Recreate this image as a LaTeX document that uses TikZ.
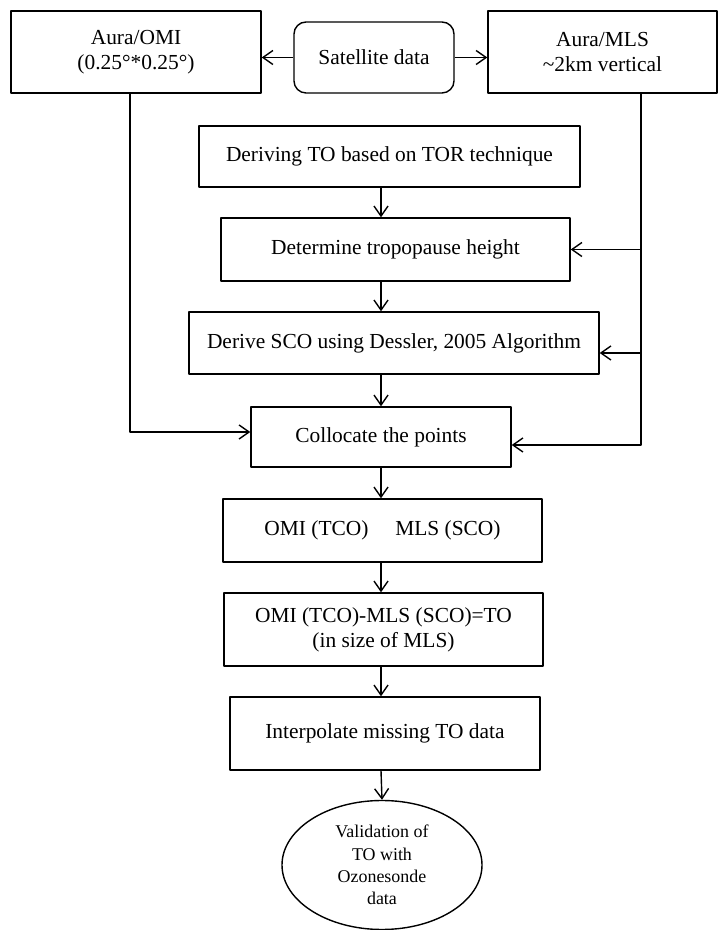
\documentclass[tikz,border=0pt]{standalone}
\usepackage{fontspec}
\setmainfont{Liberation Serif}
\usetikzlibrary{arrows.meta,shapes.geometric}
\begin{document}
\begin{tikzpicture}[>={Straight Barb[length=10bp,width=14bp]},line join=bevel,line width=1.4bp,
  font=\fontsize{21.5}{25}\selectfont,
  box/.style={draw,align=center,inner sep=0pt},]
\useasboundingbox (0bp,0bp) rectangle (719bp,930bp);
%%
\node (node_omi) at (136bp,878bp) [box,minimum width=250bp,minimum height=82bp] {Aura/OMI\\(0.25°*0.25°)};
  \node (node_sat) at (374bp,872.5bp) [box,rounded corners=12bp,minimum width=160bp,minimum height=71bp] {Satellite data};
  \node (node_mls) at (602.5bp,878bp) [box,minimum width=229bp,minimum height=82bp] {Aura/MLS\\\textasciitilde 2km vertical};
  \node (node_tor) at (389.5bp,773.5bp) [box,minimum width=381bp,minimum height=61bp] {Deriving TO based on TOR technique};
  \node (node_tph) at (395.5bp,680.5bp) [box,minimum width=349bp,minimum height=63bp] {Determine tropopause height};
  \node (node_sco) at (394bp,587bp) [box,minimum width=410bp,minimum height=62bp] {Derive SCO using Dessler, 2005 Algorithm};
  \node (node_col) at (381bp,493bp) [box,minimum width=260bp,minimum height=60bp] {Collocate the points};
  \node (node_tco) at (382.5bp,399.5bp) [box,minimum width=319bp,minimum height=63bp] {OMI (TCO)\quad\ MLS (SCO)};
  \node (node_diff) at (383.5bp,300.5bp) [box,minimum width=319bp,minimum height=73bp] {OMI (TCO)-MLS (SCO)=TO\\(in size of MLS)};
  \node (node_int) at (385bp,196.5bp) [box,minimum width=310bp,minimum height=73bp] {Interpolate missing TO data};
  \node (node_val) at (382bp,65bp) [box,ellipse,minimum width=200bp,minimum height=129bp,font=\fontsize{18}{22.5}\selectfont] {Validation of\\TO with\\Ozonesonde\\data};
  \coordinate (bus_l) at (130bp,498bp);
  \coordinate (bus_r) at (641bp,485bp);
  \draw [black,->] (node_sat.west) -- (node_sat.west -| node_omi.east);
  \draw [black,->] (node_sat.east) -- (node_sat.east -| node_mls.west);
  \draw [black,->] (node_tor.south -| node_col) -- (node_tph.north -| node_col);
  \draw [black,->] (node_tph.south -| node_col) -- (node_sco.north -| node_col);
  \draw [black,->] (node_sco.south -| node_col) -- (node_col.north);
  \draw [black,->] (node_col.south) -- (node_tco.north -| node_col);
  \draw [black,->] (node_tco.south -| node_col) -- (node_diff.north -| node_col);
  \draw [black,->] (node_diff.south -| node_col) -- (node_int.north -| node_col);
  \draw [black,->] (node_int.south -| node_col) -- (node_val.north);
  \draw [black,->] (node_omi.south -| bus_l) -- (bus_l) -- (bus_l -| node_col.west);
  \draw [black,->] (node_mls.south -| bus_r) -- (bus_r) -- (bus_r -| node_col.east);
  \draw [black,->] (node_tph.east -| bus_r) -- (node_tph.east);
  \draw [black,->] ([yshift=-10bp]node_sco.east -| bus_r) -- ([yshift=-10bp]node_sco.east);
%
\end{tikzpicture}
\end{document}
